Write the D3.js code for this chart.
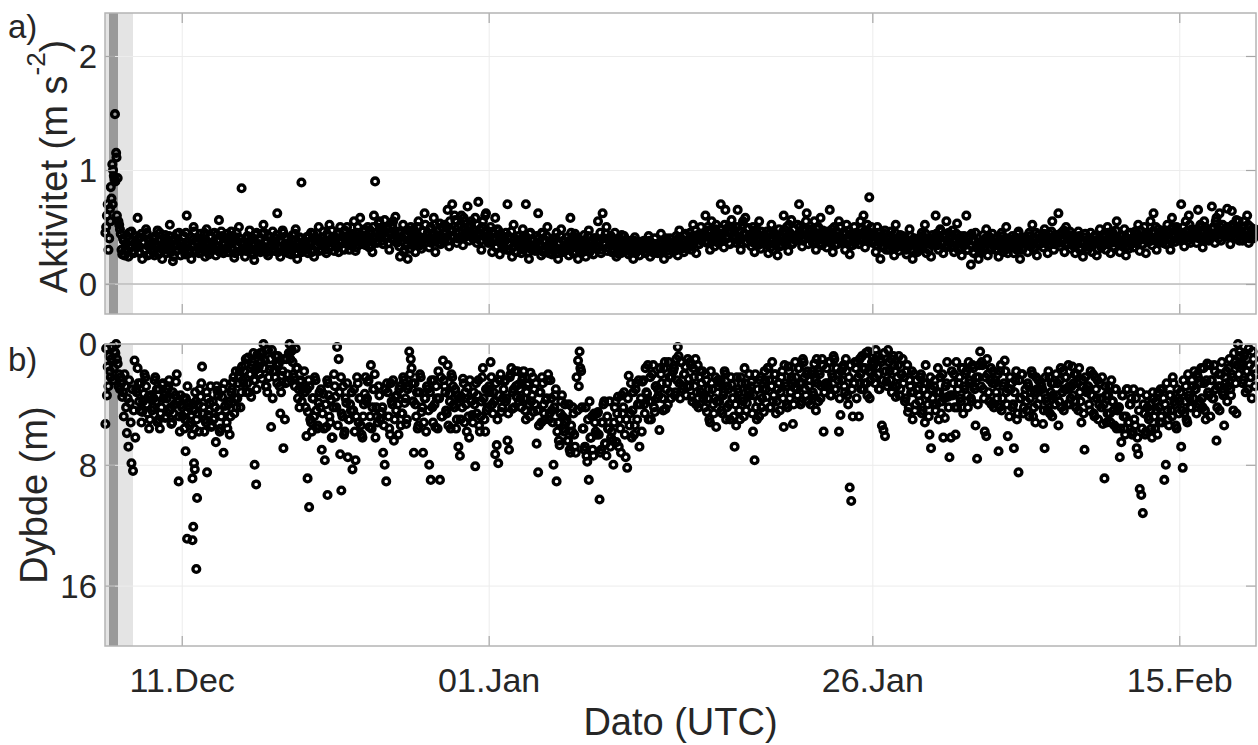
<!DOCTYPE html>
<html><head><meta charset="utf-8">
<script src="https://cdn.jsdelivr.net/npm/d3@7"></script>
<style>
body{margin:0;background:#fff}
text{font-family:"Liberation Sans",Arial,Helvetica,sans-serif;fill:#262626}
</style>
</head><body>
<svg id="chart" width="1258" height="745"></svg>
<script>
// ---------- data ----------
const startDate = "2019-12-07T00:00:00Z";
const endDate   = "2020-02-20T00:00:00Z";
const xTickDates  = ["2019-12-12T00:00:00Z","2020-01-01T00:00:00Z","2020-01-26T00:00:00Z","2020-02-15T00:00:00Z"];
const xTickLabels = ["11.Dec","01.Jan","26.Jan","15.Feb"];
const actTicks   = [0, 1, 2];
const depthTicks = [0, 8, 16];
const shadeLight = ["2019-12-07T00:00:00Z","2019-12-08T19:45:00Z"];
const shadeDark  = ["2019-12-07T06:15:00Z","2019-12-07T20:20:00Z"];
const slotsPerDay = 10;   // one row per day; A = first half of each 2.4 h slot, B = second half

// Aktivitet (m s^-2)
const activityA = [
[.45,.6,.3,.66,.75,1.0,.92,1.15,.93,.52],
[.44,.26,.38,.3,.42,.24,.33,.46,.29,.36],
[.35,.58,.28,.41,.22,.37,.3,.45,.33,.26],
[.3,.4,.25,.35,.47,.28,.38,.22,.33,.43],
[.27,.36,.52,.31,.2,.4,.29,.34,.45,.25],
[.33,.42,.26,.6,.37,.3,.22,.39,.46,.28],
[.36,.27,.44,.31,.39,.24,.48,.34,.29,.41],
[.32,.45,.25,.38,.56,.3,.42,.27,.35,.4],
[.28,.37,.46,.3,.23,.41,.34,.5,.29,.36],
[.31,.24,.4,.33,.47,.27,.36,.21,.43,.3],
[.35,.28,.44,.52,.3,.38,.25,.41,.33,.46],
[.29,.4,.62,.33,.24,.37,.45,.3,.39,.27],
[.36,.26,.43,.31,.48,.22,.35,.4,.28,.33],
[.32,.41,.27,.37,.45,.3,.24,.39,.34,.5],
[.38,.3,.46,.35,.27,.42,.52,.33,.4,.29],
[.35,.44,.28,.5,.38,.31,.47,.36,.42,.3],
[.4,.33,.55,.29,.45,.38,.58,.35,.42,.48],
[.37,.5,.32,.44,.28,.6,.41,.36,.53,.46],
[.43,.35,.56,.4,.48,.3,.45,.52,.38,.59],
[.36,.46,.24,.41,.52,.3,.44,.22,.38,.5],
[.34,.48,.28,.42,.55,.38,.31,.46,.62,.4],
[.45,.32,.5,.39,.58,.28,.43,.36,.53,.41],
[.38,.52,.46,.65,.33,.48,.7,.42,.56,.36],
[.5,.4,.6,.34,.55,.45,.68,.38,.52,.44],
[.42,.58,.36,.72,.48,.3,.55,.45,.62,.4],
[.38,.5,.28,.44,.58,.33,.47,.26,.4,.35],
[.32,.45,.7,.3,.4,.24,.52,.36,.28,.42],
[.36,.27,.48,.33,.7,.4,.22,.45,.3,.38],
[.29,.42,.62,.35,.25,.44,.31,.38,.5,.27],
[.34,.26,.4,.3,.45,.22,.36,.48,.28,.33],
[.3,.41,.25,.58,.35,.27,.44,.32,.22,.38],
[.36,.28,.43,.24,.33,.47,.3,.38,.26,.4],
[.32,.55,.38,.27,.62,.35,.44,.29,.4,.34],
[.28,.36,.45,.24,.33,.4,.27,.31,.42,.3],
[.34,.26,.38,.3,.22,.41,.29,.35,.25,.37],
[.3,.38,.27,.33,.42,.24,.36,.29,.4,.32],
[.27,.35,.44,.3,.22,.38,.32,.26,.4,.34],
[.36,.29,.42,.25,.47,.33,.38,.28,.44,.31],
[.34,.45,.3,.52,.38,.27,.43,.35,.5,.4],
[.42,.6,.36,.47,.3,.55,.4,.33,.52,.45],
[.38,.7,.44,.32,.65,.4,.5,.35,.56,.42],
[.47,.36,.65,.4,.3,.52,.44,.58,.37,.49],
[.4,.33,.5,.28,.45,.38,.55,.31,.42,.36],
[.35,.46,.27,.4,.52,.3,.43,.37,.25,.48],
[.42,.34,.6,.38,.5,.29,.45,.56,.36,.4],
[.38,.52,.7,.44,.33,.48,.4,.62,.35,.46],
[.43,.36,.55,.3,.48,.4,.58,.34,.45,.38],
[.32,.46,.65,.38,.28,.5,.42,.35,.55,.4],
[.37,.45,.3,.52,.4,.26,.44,.34,.5,.38],
[.42,.35,.55,.4,.6,.32,.47,.38,.45,.5],
[.36,.44,.28,.5,.38,.22,.42,.33,.47,.3],
[.4,.3,.46,.35,.25,.52,.38,.29,.43,.34],
[.32,.41,.26,.37,.48,.3,.22,.4,.35,.28],
[.38,.3,.45,.34,.52,.27,.4,.36,.24,.43],
[.35,.6,.42,.3,.48,.37,.27,.44,.55,.33],
[.4,.32,.47,.28,.38,.53,.3,.42,.25,.36],
[.34,.6,.3,.42,.17,.38,.27,.45,.33,.22],
[.36,.28,.43,.32,.48,.25,.39,.3,.44,.35],
[.3,.4,.24,.36,.45,.28,.33,.5,.27,.38],
[.34,.42,.27,.38,.3,.46,.22,.37,.32,.41],
[.36,.28,.45,.33,.52,.3,.4,.25,.43,.35],
[.4,.32,.48,.37,.27,.44,.35,.55,.3,.42],
[.38,.62,.33,.45,.4,.28,.5,.36,.43,.31],
[.34,.42,.27,.38,.46,.3,.36,.24,.41,.33],
[.3,.38,.45,.28,.35,.42,.25,.37,.48,.32],
[.36,.44,.3,.5,.38,.27,.46,.33,.4,.55],
[.35,.28,.42,.33,.48,.25,.39,.31,.45,.37],
[.32,.46,.38,.52,.29,.41,.35,.5,.27,.43],
[.4,.55,.34,.62,.45,.3,.48,.38,.42,.36],
[.44,.35,.52,.4,.3,.58,.42,.37,.5,.46],
[.38,.7,.45,.33,.55,.42,.6,.36,.48,.41],
[.45,.36,.65,.42,.5,.32,.55,.4,.47,.38],
[.4,.68,.5,.36,.58,.44,.62,.38,.52,.46],
[.42,.66,.48,.35,.64,.5,.4,.56,.45,.38],
[.46,.38,.55,.42,.6,.36,.5,.44,.4,.48]
];
const activityB = [
[.5,.7,.4,.85,1.05,.95,.9,.6,.55,.48],
[.3,.4,.25,.35,.28,.45,.32,.38,.27,.42],
[.32,.4,.27,.44,.36,.3,.48,.25,.38,.34],
[.36,.28,.42,.32,.26,.45,.34,.3,.4,.37],
[.33,.42,.28,.38,.24,.35,.44,.3,.37,.32],
[.36,.3,.45,.34,.27,.41,.33,.5,.29,.38],
[.32,.4,.28,.35,.45,.3,.37,.26,.42,.34],
[.37,.3,.43,.33,.28,.46,.35,.4,.31,.44],
[.34,.42,.3,.38,.27,.45,.33,.4,.36,.31],
[.35,.29,.42,.37,.3,.4,.26,.34,.45,.32],
[.4,.33,.3,.45,.36,.28,.42,.34,.38,.31],
[.35,.43,.28,.38,.32,.47,.34,.41,.3,.36],
[.3,.38,.34,.44,.27,.37,.41,.32,.36,.3],
[.36,.3,.42,.35,.28,.44,.38,.33,.4,.29],
[.34,.41,.37,.3,.44,.36,.32,.47,.38,.35],
[.4,.33,.45,.37,.42,.3,.38,.5,.35,.43],
[.36,.44,.4,.32,.5,.37,.43,.39,.46,.34],
[.42,.38,.47,.34,.5,.4,.45,.38,.55,.43],
[.38,.47,.42,.5,.36,.44,.4,.55,.46,.42],
[.4,.33,.45,.38,.28,.42,.35,.47,.31,.39],
[.38,.44,.36,.5,.41,.34,.46,.39,.52,.37],
[.4,.48,.36,.44,.52,.38,.46,.4,.35,.5],
[.44,.4,.5,.38,.55,.46,.42,.6,.45,.4],
[.45,.52,.4,.58,.48,.42,.5,.46,.55,.4],
[.46,.4,.52,.44,.38,.5,.42,.6,.47,.36],
[.42,.36,.46,.4,.32,.48,.38,.44,.34,.4],
[.38,.3,.42,.35,.46,.32,.4,.28,.37,.34],
[.33,.4,.3,.42,.36,.28,.44,.34,.38,.32],
[.35,.3,.4,.33,.45,.28,.37,.42,.32,.36],
[.3,.37,.33,.4,.27,.35,.42,.31,.38,.29],
[.34,.3,.38,.45,.32,.36,.28,.41,.35,.3],
[.32,.38,.3,.35,.42,.28,.36,.33,.4,.31],
[.37,.33,.45,.3,.4,.36,.5,.32,.38,.42],
[.34,.3,.38,.27,.36,.32,.43,.29,.35,.38],
[.3,.35,.28,.33,.38,.27,.32,.36,.3,.34],
[.34,.28,.36,.31,.38,.3,.33,.27,.35,.32],
[.32,.28,.37,.3,.35,.4,.29,.33,.36,.3],
[.33,.38,.3,.4,.35,.31,.37,.42,.34,.36],
[.38,.33,.42,.36,.47,.4,.35,.44,.38,.42],
[.44,.38,.5,.41,.46,.37,.43,.48,.4,.36],
[.44,.48,.38,.52,.42,.46,.36,.45,.5,.4],
[.42,.5,.38,.46,.4,.55,.44,.36,.48,.42],
[.38,.44,.36,.42,.48,.34,.4,.46,.37,.43],
[.4,.36,.44,.32,.38,.45,.35,.42,.38,.33],
[.4,.46,.36,.44,.38,.52,.42,.35,.48,.4],
[.42,.4,.5,.44,.38,.46,.55,.42,.4,.48],
[.4,.46,.38,.44,.5,.36,.42,.47,.4,.44],
[.38,.44,.36,.48,.42,.34,.46,.4,.5,.38],
[.4,.36,.44,.38,.47,.34,.42,.4,.36,.45],
[.44,.4,.48,.38,.46,.42,.52,.4,.44,.37],
[.38,.42,.34,.45,.36,.4,.32,.44,.37,.4],
[.36,.42,.33,.38,.45,.32,.4,.36,.34,.42],
[.35,.3,.38,.33,.42,.36,.29,.38,.33,.36],
[.35,.42,.32,.38,.44,.36,.3,.4,.34,.38],
[.38,.44,.34,.4,.46,.36,.42,.32,.38,.45],
[.36,.42,.33,.38,.44,.35,.4,.32,.38,.42],
[.36,.3,.4,.34,.44,.28,.38,.32,.36,.3],
[.33,.38,.3,.4,.36,.42,.32,.37,.34,.4],
[.34,.3,.38,.33,.42,.36,.3,.4,.35,.32],
[.36,.32,.4,.35,.44,.33,.38,.3,.36,.4],
[.38,.34,.42,.36,.4,.32,.45,.37,.35,.4],
[.38,.44,.36,.42,.34,.4,.46,.38,.35,.43],
[.4,.36,.44,.38,.47,.35,.42,.39,.46,.37],
[.37,.33,.4,.35,.42,.32,.38,.36,.44,.34],
[.35,.4,.33,.38,.42,.36,.3,.4,.34,.38],
[.38,.42,.35,.45,.4,.36,.43,.38,.47,.4],
[.38,.34,.42,.36,.4,.33,.44,.37,.35,.4],
[.4,.36,.44,.38,.47,.35,.42,.39,.45,.37],
[.42,.38,.46,.4,.5,.37,.44,.41,.47,.39],
[.42,.47,.4,.45,.38,.5,.43,.48,.4,.45],
[.44,.4,.5,.42,.46,.38,.52,.44,.4,.47],
[.42,.48,.4,.52,.45,.4,.5,.43,.46,.41],
[.44,.48,.42,.55,.46,.4,.5,.45,.43,.48],
[.45,.5,.42,.46,.52,.44,.48,.4,.55,.47],
[.44,.5,.42,.46,.52,.4,.45,.48,.43,.47]
];
// isolated activity points: [days after 7 Dec, value]
const activityExtra = [[0.65,1.49],[0.75,1.11],[0.35,0.55],[0.5,0.7],[8.9,0.84],[12.8,0.89],[17.6,0.9],[49.8,0.76]];

// Dybde (m)
const depthA = [
[5.3,3.4,2.8,1.8,1.0,2.4,0.5,0.0,1.3,2.0],
[2.2,3.5,4.8,2.8,5.9,6.8,3.9,7.9,8.4,1.1],
[3.0,1.6,3.8,2.6,4.5,3.3,2.2,4.0,3.5,5.0],
[3.4,4.2,2.4,3.8,5.2,3.0,4.6,2.7,3.6,4.9],
[3.6,2.8,4.4,5.3,3.2,4.0,2.5,3.8,4.8,3.4],
[4.2,3.6,5.0,4.5,3.9,5.4,4.7,4.0,5.6,3.8],
[4.6,5.8,3.5,1.5,4.2,5.0,3.2,4.7,3.9,5.5],
[3.8,4.9,6.5,3.1,4.4,5.6,3.5,7.2,4.1,5.2],
[4.0,6.0,3.2,2.5,4.6,1.8,3.6,2.2,4.2,1.5],
[2.6,1.4,3.2,0.9,2.0,3.5,1.2,2.4,1.7,0.7],
[1.5,0.6,2.3,0.0,1.1,2.8,0.4,1.7,5.5,3.6],
[1.8,0.8,2.6,1.3,4.6,2.1,6.9,5.0,1.0,2.5],
[0.0,0.5,1.2,2.2,0.3,1.6,3.0,2.5,3.8,2.8],
[3.2,6.1,4.5,2.8,5.2,3.6,4.8,2.4,5.6,3.9],
[4.2,7.0,3.3,7.7,5.5,2.6,4.8,3.7,6.2,2.0],
[3.5,0.2,1.0,7.3,4.6,2.8,5.8,3.9,7.5,5.0],
[4.4,8.3,3.0,7.7,2.2,5.2,3.6,6.0,4.8,3.3],
[3.8,2.5,5.5,1.4,4.2,3.0,6.2,4.8,2.8,5.0],
[4.5,7.2,8.0,9.1,3.2,5.6,2.6,4.0,6.4,3.5],
[3.4,6.0,2.8,4.6,2.2,3.9,5.3,3.0,0.5,1.0],
[2.6,7.2,4.0,3.2,5.4,2.0,4.5,7.2,3.6,5.8],
[3.0,8.0,9.0,4.2,2.4,5.5,3.6,1.8,9.0,4.8],
[1.1,2.8,4.4,1.4,3.3,5.6,2.2,4.0,3.0,5.0],
[6.8,7.4,3.5,2.3,5.2,4.0,2.9,6.2,3.7,4.7],
[3.2,8.1,4.6,2.4,5.8,3.8,1.6,5.0,3.0,4.2],
[2.8,1.2,4.0,3.2,7.3,6.7,7.9,2.4,4.5,3.6],
[2.5,3.8,6.4,7.0,2.0,4.3,3.0,1.8,3.5,2.7],
[3.0,4.2,2.2,3.6,5.0,2.7,4.0,1.9,3.4,4.5],
[4.0,6.6,8.5,3.2,5.2,2.6,4.6,3.7,2.4,5.0],
[2.4,4.4,8.0,3.4,9.1,5.2,6.7,3.8,4.8,5.8],
[5.2,6.4,4.0,7.2,5.8,4.6,6.8,2.2,1.1,0.5],
[1.8,5.6,7.0,4.2,7.8,9.0,6.2,4.8,7.4,5.2],
[6.0,4.5,10.3,7.0,5.2,3.8,6.6,4.8,5.6,6.8],
[5.8,8.0,4.2,6.5,3.5,5.0,7.2,4.6,3.2,7.5],
[8.2,2.1,4.6,6.2,3.2,5.4,2.6,4.0,6.8,3.6],
[2.5,4.0,1.6,3.3,5.0,2.2,3.8,1.4,4.5,2.8],
[3.0,5.7,2.0,3.6,1.6,4.3,2.6,1.2,3.2,2.2],
[1.8,3.4,1.0,0.2,2.6,1.2,3.0,2.0,1.5,2.8],
[2.3,1.2,3.5,1.6,2.8,4.0,1.4,2.2,3.2,1.8],
[3.4,2.0,4.5,3.0,5.2,2.6,4.0,3.6,5.5,2.4],
[3.8,2.4,4.6,3.2,2.0,4.2,3.0,5.0,2.7,3.6],
[6.8,5.4,3.0,4.4,2.2,3.6,4.8,2.6,3.9,3.2],
[3.4,2.5,5.8,7.7,4.2,3.0,4.8,2.2,3.6,4.5],
[2.4,3.5,1.6,4.2,2.8,3.8,2.0,4.6,3.0,2.6],
[3.2,1.8,5.5,2.6,4.0,1.5,3.6,2.2,5.3,2.9],
[2.2,3.4,1.6,4.0,2.6,1.2,3.0,2.0,3.8,2.4],
[2.0,3.2,1.3,4.4,2.6,1.8,3.6,1.0,5.8,2.8],
[1.6,2.8,1.2,3.4,2.2,1.0,3.0,2.0,5.8,4.7],
[2.4,1.4,3.2,1.8,4.0,9.5,10.4,4.8,2.6,1.6],
[1.2,4.8,2.0,0.8,3.0,1.6,2.6,0.5,3.6,1.9],
[0.9,2.2,0.4,1.5,3.0,1.0,5.4,5.7,6.1,2.5],
[0.4,1.8,1.0,2.8,1.4,3.5,2.2,0.8,3.0,2.0],
[2.6,3.8,1.8,4.5,2.4,3.2,5.0,2.0,4.0,3.0],
[3.4,2.2,4.6,3.0,5.2,2.6,4.0,6.0,6.9,3.6],
[2.8,4.4,3.2,5.0,2.2,3.8,6.2,4.9,2.6,3.5],
[7.5,6.2,3.4,2.0,6.0,4.2,2.6,3.6,1.6,4.6],
[3.0,1.8,4.2,2.4,3.6,1.4,2.8,5.4,7.6,2.2],
[0.5,1.2,3.0,5.8,6.1,2.0,3.8,1.6,2.6,4.2],
[2.4,3.6,7.1,1.8,4.4,2.8,1.1,3.2,6.1,4.8],
[3.0,4.2,6.9,2.4,5.0,8.5,3.6,2.0,4.6,3.4],
[3.8,2.6,4.8,3.2,2.0,4.2,5.2,3.0,2.4,3.6],
[2.8,5.3,6.9,3.6,4.4,2.2,3.2,4.8,2.6,4.0],
[3.4,5.4,2.4,4.2,1.8,3.0,2.2,4.0,2.8,3.6],
[1.5,2.6,3.8,2.0,4.4,3.2,5.2,2.4,7.0,3.0],
[2.8,4.0,1.8,3.4,4.6,2.2,3.6,5.0,2.6,4.2],
[5.3,8.9,3.4,4.6,2.8,5.2,3.8,4.4,3.0,5.6],
[4.2,7.5,6.5,3.4,5.6,4.8,3.0,5.2,4.0,6.0],
[3.0,5.4,6.9,7.3,9.6,10.0,11.2,4.6,5.8,4.2],
[5.0,4.0,6.2,3.6,5.6,4.4,3.2,5.2,4.8,3.0],
[9.0,8.0,4.4,5.4,3.4,4.8,2.6,4.0,5.6,3.6],
[3.8,6.8,8.2,4.6,2.8,5.2,3.4,4.2,2.4,3.6],
[3.0,4.6,2.2,3.8,1.6,4.2,2.6,5.0,1.3,3.4],
[4.8,2.4,3.6,1.8,6.4,2.8,4.4,2.0,3.2,5.4],
[2.6,3.8,1.6,3.0,2.0,4.4,1.2,4.6,0.0,0.5],
[1.4,2.6,0.8,3.2,1.8,0.3,2.2,3.6,1.0,2.8]
];
const depthB = [
[0.3,1.5,0.8,2.2,0.2,1.6,0.6,1.0,2.8,3.0],
[2.6,3.2,2.0,4.2,3.6,2.4,5.2,3.0,4.4,6.2],
[3.2,2.6,4.4,5.2,3.8,2.0,2.8,4.6,5.6,3.4],
[4.4,3.6,2.2,3.0,5.0,5.6,4.2,2.6,3.4,4.8],
[3.0,2.4,4.2,5.2,4.6,3.4,2.0,3.8,5.8,4.0],
[4.8,5.6,3.6,2.8,4.2,5.2,6.0,4.4,3.2,5.0],
[4.0,3.0,2.6,4.6,5.8,5.2,3.6,4.4,2.8,5.4],
[5.0,4.2,2.8,3.4,5.8,4.8,3.0,2.6,4.4,5.6],
[3.8,4.8,3.0,2.2,3.6,4.2,2.6,1.8,3.2,2.4],
[1.8,1.0,2.6,3.2,2.0,1.4,0.6,2.4,3.0,1.6],
[2.0,1.2,0.6,1.6,2.8,3.2,2.2,1.0,0.4,1.8],
[2.2,1.4,0.8,2.8,3.2,1.8,1.0,2.6,2.0,0.6],
[1.0,0.4,2.0,2.8,1.6,3.6,4.2,2.4,3.0,1.8],
[4.2,3.0,2.4,5.0,5.8,3.6,2.2,4.4,5.4,3.2],
[3.0,4.6,5.6,4.0,2.4,3.4,5.2,6.2,4.2,2.8],
[4.2,5.4,3.2,2.2,4.8,6.0,3.6,2.6,5.0,4.0],
[3.2,4.4,5.8,4.8,2.6,3.6,5.4,6.2,4.0,2.2],
[3.6,2.4,4.8,5.6,3.0,2.0,4.2,5.2,3.4,4.6],
[4.2,5.4,3.0,2.6,4.8,6.0,3.8,2.4,5.0,4.4],
[4.0,3.0,5.4,4.6,2.4,3.6,5.0,2.8,2.0,1.6],
[3.8,2.6,4.8,5.6,3.2,2.2,4.2,5.2,3.6,2.8],
[4.4,3.2,2.4,5.2,4.0,2.8,5.6,3.6,2.2,4.8],
[2.4,3.2,4.6,5.4,3.8,2.0,2.8,4.2,5.6,3.4],
[3.6,5.0,4.2,2.6,3.2,5.8,4.8,2.4,3.8,5.2],
[4.0,2.6,3.4,5.4,4.8,2.2,3.6,5.8,4.4,3.0],
[3.2,2.2,4.6,3.8,2.6,5.0,3.4,2.0,4.2,3.0],
[2.4,3.6,4.6,2.2,1.6,3.2,4.2,2.8,1.8,3.8],
[3.6,2.4,1.8,4.4,3.2,2.6,4.8,3.8,2.2,3.0],
[2.6,4.4,5.4,3.2,2.2,4.0,5.0,3.6,2.0,4.6],
[3.6,5.2,4.2,3.0,5.8,6.4,4.6,3.4,5.6,4.0],
[5.0,6.4,7.0,5.4,4.2,6.0,7.2,4.4,2.8,1.6],
[4.2,5.6,6.8,7.4,5.0,3.8,6.2,7.0,4.6,5.8],
[4.6,6.0,7.2,5.2,4.0,6.6,7.4,5.6,3.8,6.2],
[6.4,5.2,3.8,4.6,6.8,5.6,3.4,4.2,6.0,5.0],
[3.6,5.4,2.6,4.4,6.0,3.0,5.0,2.4,4.0,5.8],
[2.4,4.6,3.2,1.4,3.8,5.0,2.0,4.2,2.8,3.6],
[3.4,1.6,2.6,4.4,1.2,3.0,4.0,2.2,3.6,1.8],
[1.6,3.2,2.4,0.8,3.6,1.2,2.8,2.0,3.4,1.0],
[2.8,1.4,3.8,2.2,1.0,3.2,4.2,1.8,2.6,3.6],
[4.2,2.4,3.6,5.0,1.8,3.0,4.6,2.2,3.8,2.8],
[2.6,4.4,3.4,1.8,5.0,2.8,4.0,2.2,3.6,4.8],
[4.0,2.2,3.2,5.0,2.6,3.8,1.6,4.4,3.0,2.0],
[2.8,4.6,3.4,2.0,5.0,3.8,2.4,4.2,3.0,1.8],
[3.0,1.6,2.4,4.2,1.2,3.4,2.0,3.8,2.6,4.4],
[2.2,3.6,1.4,2.8,4.2,1.8,3.2,2.4,4.0,1.2],
[3.0,1.6,2.6,3.8,1.0,2.2,3.4,1.8,2.8,4.0],
[1.8,3.4,2.4,1.0,3.8,2.0,2.8,1.4,3.2,2.6],
[2.6,1.2,3.4,2.0,0.8,3.0,1.6,2.4,3.6,1.8],
[1.6,2.8,1.0,3.4,2.2,1.4,3.0,2.6,1.2,3.6],
[2.2,1.0,3.0,1.6,2.6,0.6,3.4,1.8,2.4,1.2],
[1.4,2.6,0.8,2.0,3.0,1.2,2.4,0.6,1.8,2.8],
[1.2,2.4,3.2,0.8,1.8,2.8,1.4,3.4,2.0,1.0],
[2.2,3.6,1.4,4.2,2.8,1.8,3.2,4.4,2.4,3.0],
[3.8,2.0,4.4,2.6,1.4,3.4,4.8,2.2,3.0,4.0],
[2.4,4.0,1.6,3.2,4.6,2.0,3.6,2.8,1.2,4.2],
[3.4,1.8,2.6,4.2,1.2,3.0,2.2,3.8,1.6,2.8],
[2.0,3.4,1.2,2.6,3.8,1.6,3.0,2.2,4.0,1.4],
[2.8,1.4,3.6,2.2,1.0,3.2,2.4,4.0,1.8,2.6],
[3.2,2.0,4.2,1.4,3.6,2.6,1.8,4.0,3.0,2.2],
[2.6,4.0,3.2,1.8,4.6,2.4,3.6,2.0,4.2,3.0],
[4.4,2.8,3.6,1.8,4.8,3.2,2.2,4.0,3.0,2.6],
[3.0,4.4,2.2,3.8,1.8,4.6,2.6,3.4,4.0,2.0],
[2.6,3.8,1.6,3.2,4.4,2.2,3.0,1.4,4.0,2.8],
[3.4,2.0,4.2,2.6,1.6,3.8,2.8,4.6,2.2,3.2],
[2.8,4.4,3.4,2.0,4.8,3.0,2.4,4.0,3.6,2.2],
[4.0,2.8,5.2,3.4,4.6,2.4,3.8,5.4,3.0,4.4],
[4.2,5.6,3.4,4.8,6.0,3.0,5.2,4.0,3.6,5.8],
[5.0,3.6,6.2,4.4,3.2,5.6,4.0,6.0,3.4,4.8],
[4.4,5.6,3.2,4.8,3.8,6.0,4.2,3.0,5.2,3.6],
[4.0,2.6,5.0,3.4,4.4,2.2,3.8,5.4,3.0,4.6],
[3.2,4.4,2.4,3.8,5.0,2.0,3.6,4.2,2.8,1.8],
[3.0,2.0,4.0,2.6,3.6,1.6,4.4,2.4,3.2,1.4],
[2.4,3.6,1.4,3.0,4.2,2.0,2.8,1.2,3.4,2.2],
[1.8,2.8,1.0,3.4,2.2,0.6,2.6,1.4,2.0,0.8],
[1.2,2.4,0.6,1.8,3.0,1.4,2.2,0.5,1.6,2.0]
];
// isolated deep points: [days after 7 Dec, depth]
const depthExtra = [[4.8,9.1],[5.25,7.1],[5.8,7.9],[5.85,8.3],[5.7,8.9],[6.0,10.2],[5.75,12.1],
  [5.35,12.9],[5.7,13.0],[5.95,14.9],[6.65,8.5],[9.75,8.0],[9.85,9.3],[13.2,8.9],[13.3,10.8],
  [14.5,10.0],[15.4,9.7]];

// ---------- build ----------
const DAY = 864e5;
const t0 = new Date(startDate);
function rowsToPoints(rows, half){
  const out=[];
  rows.forEach((r,d)=>r.forEach((v,k)=>out.push({t:new Date(+t0+(d+(k+half)/slotsPerDay)*DAY),v})));
  return out;
}
function extraToPoints(arr){return arr.map(([d,v])=>({t:new Date(+t0+d*DAY),v}));}
const actPts = rowsToPoints(activityA,0.25).concat(rowsToPoints(activityB,0.75), extraToPoints(activityExtra));
const depPts = rowsToPoints(depthA,0.25).concat(rowsToPoints(depthB,0.75), extraToPoints(depthExtra));

const svg = d3.select("#chart");
const L=105, R=1256;
const x = d3.scaleUtc().domain([new Date(startDate), new Date(endDate)]).range([L,R]);
const panels = [
  {top:13, bottom:314, y:d3.scaleLinear().domain([-0.263,2.377]).range([314,13]), ticks:actTicks, pts:actPts, zeroLine:true},
  {top:344, bottom:646, y:d3.scaleLinear().domain([0,20]).range([344,646]), ticks:depthTicks, pts:depPts, zeroLine:false}
];
const tickDates = xTickDates.map(s=>new Date(s));

panels.forEach((p,i)=>{
  const g = svg.append("g");
  const h = p.bottom-p.top;
  g.append("rect").attr("x",x(new Date(shadeLight[0]))).attr("y",p.top)
    .attr("width",x(new Date(shadeLight[1]))-x(new Date(shadeLight[0]))).attr("height",h).attr("fill","#e4e4e4");
  g.append("rect").attr("x",x(new Date(shadeDark[0]))).attr("y",p.top)
    .attr("width",x(new Date(shadeDark[1]))-x(new Date(shadeDark[0]))).attr("height",h).attr("fill","#999999");
  g.append("g").attr("transform",`translate(0,${p.bottom})`)
    .call(d3.axisBottom(x).tickValues(tickDates).tickSize(-h).tickFormat(""))
    .call(a=>{a.select(".domain").remove(); a.selectAll("line").attr("stroke","#ececec").attr("stroke-width",1);});
  g.append("g").attr("transform",`translate(${L},0)`)
    .call(d3.axisLeft(p.y).tickValues(p.ticks).tickSize(-(R-L)).tickFormat(""))
    .call(a=>{a.select(".domain").remove(); a.selectAll("line").attr("stroke","#ececec").attr("stroke-width",1);});
  if(p.zeroLine){
    g.append("line").attr("x1",L).attr("x2",R).attr("y1",p.y(0)).attr("y2",p.y(0))
      .attr("stroke","#bcbcbc").attr("stroke-width",1.5);
  }
  g.append("g").selectAll("circle").data(p.pts).join("circle")
    .attr("cx",d=>x(d.t)).attr("cy",d=>p.y(d.v)).attr("r",3.4)
    .attr("fill","none").attr("stroke","#000").attr("stroke-width",3.3);
  const tk = a=>{a.select(".domain").remove(); a.selectAll("line").attr("stroke","#a6a6a6").attr("stroke-width",1.2);};
  g.append("g").attr("transform",`translate(0,${p.bottom})`)
    .call(d3.axisBottom(x).tickValues(tickDates).tickSize(-10).tickFormat("")).call(tk);
  g.append("g").attr("transform",`translate(0,${p.top})`)
    .call(d3.axisTop(x).tickValues(tickDates).tickSize(-10).tickFormat("")).call(tk);
  g.append("g").attr("transform",`translate(${L},0)`)
    .call(d3.axisLeft(p.y).tickValues(p.ticks).tickSize(-10).tickFormat("")).call(tk);
  g.append("g").attr("transform",`translate(${R},0)`)
    .call(d3.axisRight(p.y).tickValues(p.ticks).tickSize(-10).tickFormat("")).call(tk);
  const ya = g.append("g").attr("transform",`translate(${L},0)`)
    .call(d3.axisLeft(p.y).tickValues(p.ticks).tickSize(0).tickPadding(8).tickFormat(d3.format("d")));
  ya.select(".domain").remove();
  ya.selectAll("text").attr("font-size",33).attr("fill","#262626").attr("dy","0.36em")
    .style("font-family",'"Liberation Sans",Arial,sans-serif');
  g.append("rect").attr("x",L).attr("y",p.top).attr("width",R-L).attr("height",h)
    .attr("fill","none").attr("stroke","#b4b4b4").attr("stroke-width",1.5);
});

const xa = svg.append("g").attr("transform",`translate(0,${panels[1].bottom})`)
  .call(d3.axisBottom(x).tickValues(tickDates).tickSize(0).tickPadding(22).tickFormat((d,i)=>xTickLabels[i]));
xa.select(".domain").remove();
xa.selectAll("text").attr("font-size",34).attr("fill","#262626").attr("dy","0.71em")
  .style("font-family",'"Liberation Sans",Arial,sans-serif');

svg.append("text").attr("x",(L+R)/2).attr("y",735).attr("text-anchor","middle")
  .attr("font-size",38).text("Dato (UTC)");
svg.append("text").attr("transform","translate(47,495) rotate(-90)").attr("text-anchor","middle")
  .attr("font-size",38).text("Dybde (m)");
const yl = svg.append("text").attr("transform","translate(67,293) rotate(-90)").attr("text-anchor","start")
  .attr("font-size",38);
yl.append("tspan").text("Aktivitet (m s");
yl.append("tspan").attr("font-size",26).attr("dy",-22).text("-2");
yl.append("tspan").attr("dy",22).text(")");
svg.append("text").attr("x",8).attr("y",38).attr("font-size",33).text("a)");
svg.append("text").attr("x",8).attr("y",371).attr("font-size",33).text("b)");
</script>
</body></html>
